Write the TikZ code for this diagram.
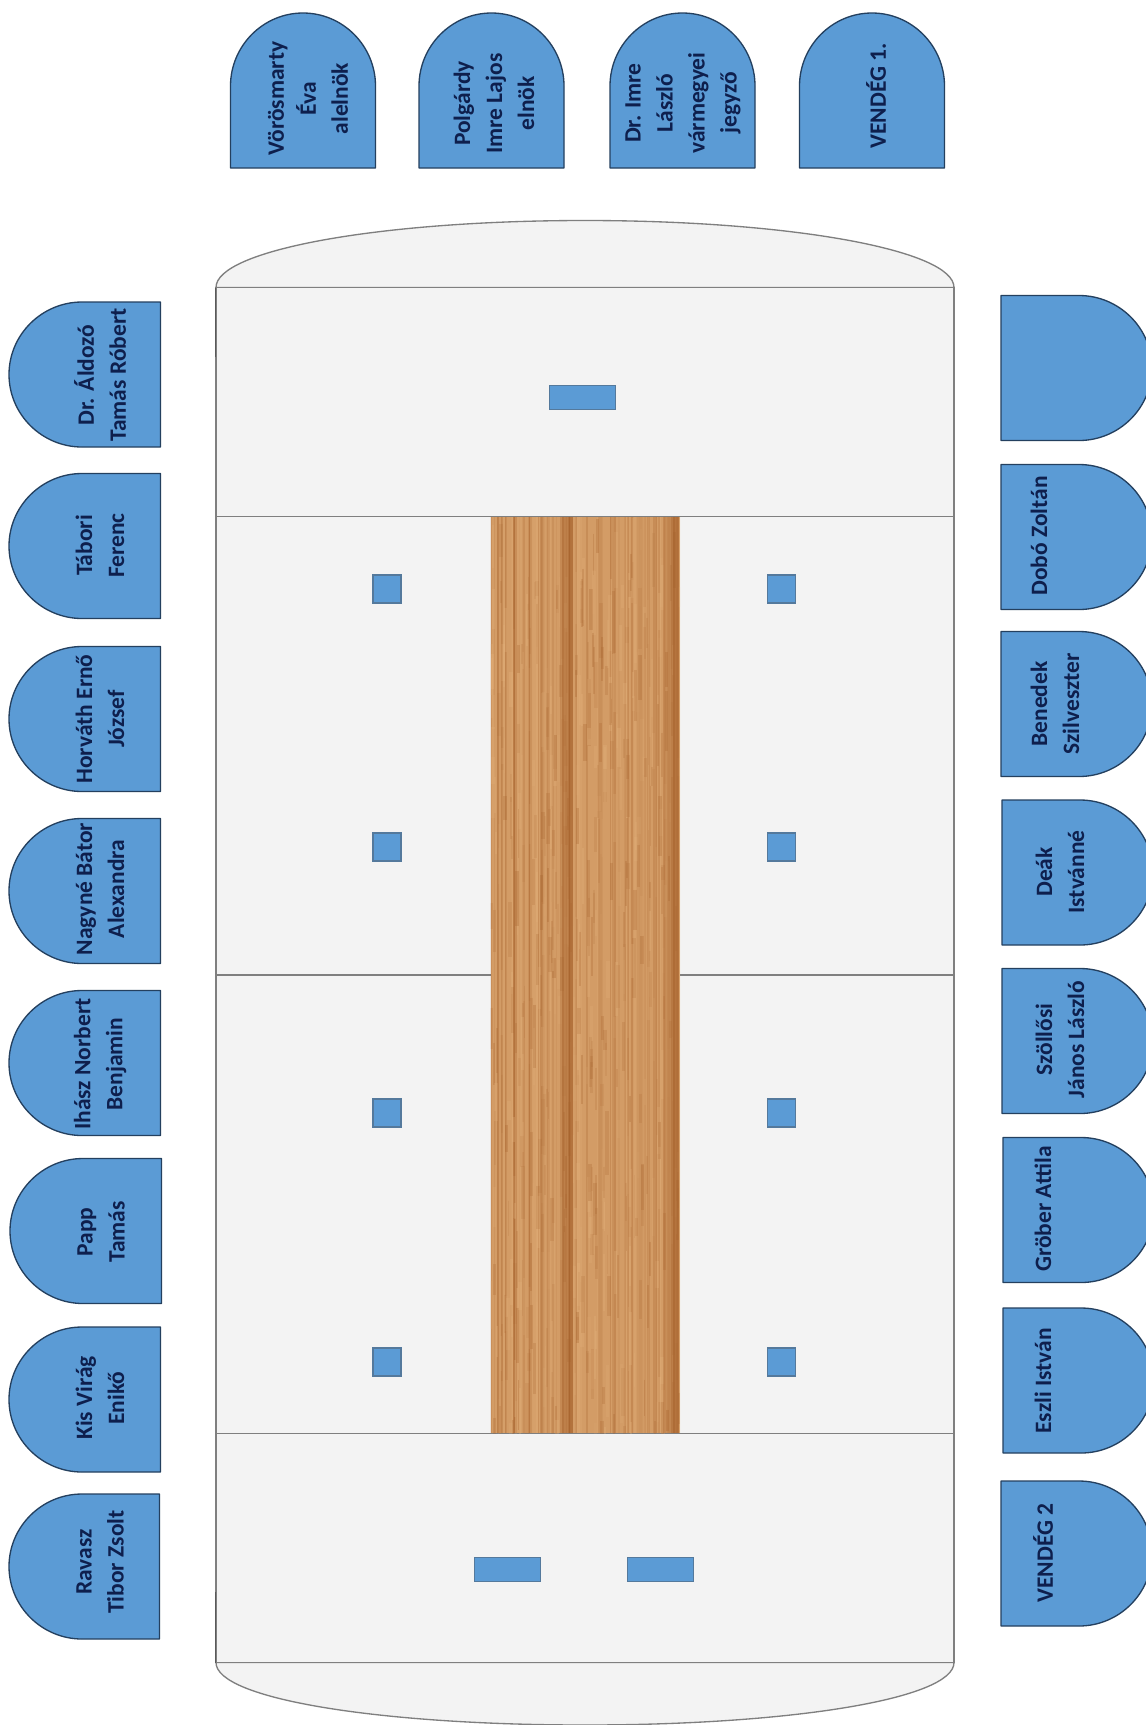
\documentclass[tikz,border=0pt]{standalone}
\usepackage{fontspec}
\setmainfont{Carlito}
\definecolor{chairblue}{HTML}{5B9BD5}
\definecolor{chairline}{HTML}{24405F}
\definecolor{inktext}{HTML}{0E1F4D}
\definecolor{tablefill}{HTML}{F3F3F3}
\definecolor{tableline}{HTML}{7F7F7F}
\definecolor{woodbase}{HTML}{D39C66}
\definecolor{wooddark}{HTML}{A5602A}
\definecolor{woodlight}{HTML}{E6B57F}
\definecolor{padline}{HTML}{54799C}
\tikzset{
  chairpath/.style={fill=chairblue,draw=chairline,line width=1pt,line join=round},
  chairtext/.style={rotate=90,font=\bfseries\fontsize{17.6}{24}\selectfont,text=inktext,align=center,inner sep=0pt},
  toptext/.style={chairtext},
  tablepart/.style={fill=tablefill,draw=tableline,line width=1pt},
  divider/.style={draw=tableline,line width=.9pt},
  pad/.style={fill=chairblue,draw=padline,line width=.8pt,inner sep=0pt,minimum width=#1},
}
% flat base at the origin, arch towards local +y
\newcommand{\seat}[4]{%
  \begin{scope}[shift={(#1,#2)},rotate=#3]
    \path[chairpath] (-72.5,0) -- (-72.5,#4-73)
      .. controls (-72.5,#4-33) and (-40,#4) .. (0,#4)
      .. controls (40,#4) and (72.5,#4-33) .. (72.5,#4-73)
      -- (72.5,0) -- cycle;
  \end{scope}}
\begin{document}
\begin{tikzpicture}[x=0.75pt,y=-0.75pt]
\useasboundingbox (0,0) rectangle (1146,1725);
\fill[white] (0,0) rectangle (1146,1725);
\begin{scope}
\clip (0,0) rectangle (1146,1725);

% table
\path[tablepart] (216,287.5) .. controls (216,250) and (380,220.5) .. (585,220.5)
   .. controls (790,220.5) and (954,250) .. (954,287.5) -- cycle;
\path[tablepart] (216,1662.5) .. controls (216,1699) and (380,1725) .. (585,1725)
   .. controls (790,1725) and (954,1699) .. (954,1662.5) -- cycle;
\path[tablepart] (216,287.5) rectangle (954,1662.5);
\draw[divider] (216,516.5) -- (954,516.5);
\draw[divider] (216,975) -- (954,975);
\draw[divider] (216,1433.5) -- (954,1433.5);
\draw[tableline!70!black,line width=.9pt] (215.5,287.5) -- (215.5,357);
\draw[tableline!70!black,line width=.9pt] (215.5,1592) -- (215.5,1662.5);

% wood
\begin{scope}
\clip (490.5,517) rectangle (680,1433);
\fill[woodbase] (490.5,517) rectangle (680,1433);
\pgfmathsetseed{7}
\foreach \i in {1,...,90}{
  \pgfmathsetmacro\xx{490.5+189.5*rnd}
  \pgfmathsetmacro\ww{0.5+1.5*rnd}
  \pgfmathsetmacro\oo{0.10+0.25*rnd}
  \ifodd\i
    \draw[wooddark,line width=\ww pt,opacity=\oo] (\xx,516) -- (\xx,1433);
  \else
    \draw[woodlight,line width=\ww pt,opacity=\oo] (\xx,516) -- (\xx,1433);
  \fi
}
\foreach \i in {1,...,500}{
  \pgfmathsetmacro\xx{490.5+189.5*rnd}
  \pgfmathsetmacro\yy{516+917*rnd}
  \pgfmathsetmacro\ll{15+50*rnd}
  \pgfmathsetmacro\ww{1+2*rnd}
  \pgfmathsetmacro\oo{0.08+0.2*rnd}
  \ifodd\i
    \draw[wooddark,line width=\ww pt,opacity=\oo] (\xx,\yy) -- (\xx,\yy+\ll);
  \else
    \draw[woodlight,line width=\ww pt,opacity=\oo] (\xx,\yy) -- (\xx,\yy+\ll);
  \fi
}
\foreach \xa/\wa/\oa in {566/6/.45,571/3/.7,562/3/.3,671/6/.4,676/4/.65,665/3/.3,500/3/.15,530/3/.2,545/4/.15,600/3/.2,640/4/.15,655/3/.25}{
  \draw[wooddark,line width=\wa pt,opacity=\oa] (\xa,516) -- (\xa,1433);
}
\end{scope}

% pads on the table
\foreach \nm/\xc/\yc in {pa/387/589,pb/387/847,pc/387/1113,pd/387/1362,
                         pe/781.5/589,pf/781.5/847,pg/781.5/1113,ph/781.5/1362}{
  \node[pad=21pt,minimum height=21pt] (\nm) at (\xc,\yc) {};
}
\node[pad=49.5pt,minimum height=17.5pt] (pi) at (582.5,397.5) {};
\node[pad=49.5pt,minimum height=17.5pt] (pj) at (507.5,1569.5) {};
\node[pad=49.5pt,minimum height=17.5pt] (pk) at (660.5,1569.5) {};

% top seats
\seat{303}{168}{180}{155}
\seat{491.5}{168}{180}{155}
\seat{682.5}{168}{180}{155}
\seat{872}{168}{180}{155}
% left seats
\seat{160.5}{374.5}{-90}{151.5}
\seat{160.5}{546}{-90}{151.5}
\seat{160.5}{719}{-90}{151.5}
\seat{160.5}{891}{-90}{151.5}
\seat{160.5}{1063}{-90}{151.5}
\seat{161.5}{1231}{-90}{151.5}
\seat{160.5}{1399.5}{-90}{151.5}
\seat{159.5}{1566.5}{-90}{150.5}
% right seats
\seat{1001}{368}{90}{151}
\seat{1001}{537}{90}{151}
\seat{1001}{704}{90}{151}
\seat{1002}{872.5}{90}{151}
\seat{1002}{1041}{90}{151}
\seat{1003}{1210}{90}{151}
\seat{1003}{1380.5}{90}{151}
\seat{1001}{1553.5}{90}{151}

% names
\node[toptext] (t1) at (308,98.5) {Vörösmarty\\Éva\\alelnök};
\node[toptext] (t2) at (494,103.5) {Polgárdy\\Imre Lajos\\elnök};
\node[toptext] (t3) at (683,103) {Dr. Imre\\László\\vármegyei\\jegyző};
\node[toptext] (t4) at (876,96) {VENDÉG 1.};

\node[chairtext] (l1) at (100,375) {Dr. Áldozó\\Tamás Róbert};
\node[chairtext] (l2) at (100,545.5) {Tábori\\Ferenc};
\node[chairtext] (l3) at (100,719) {Horváth Ernő\\József};
\node[chairtext] (l4) at (100,889) {Nagyné Bátor\\Alexandra};
\node[chairtext] (l5) at (100,1064) {Ihász Norbert\\Benjamin};
\node[chairtext] (l6) at (101,1232) {Papp\\Tamás};
\node[chairtext] (l7) at (100,1398) {Kis Virág\\Enikő};
\node[chairtext] (l8) at (100,1562) {Ravasz\\Tibor Zsolt};

\node[chairtext] (r2) at (1039,536) {Dobó Zoltán};
\node[chairtext] (r3) at (1055,704) {Benedek\\Szilveszter};
\node[chairtext] (r4) at (1060,872) {Deák\\Istvánné};
\node[chairtext] (r5) at (1060,1039.5) {Szöllősi\\János László};
\node[chairtext] (r6) at (1043,1209) {Gröber Attila};
\node[chairtext] (r7) at (1043,1381) {Eszli István};
\node[chairtext] (r8) at (1043,1553) {VENDÉG 2};
\end{scope}
\end{tikzpicture}
\end{document}
